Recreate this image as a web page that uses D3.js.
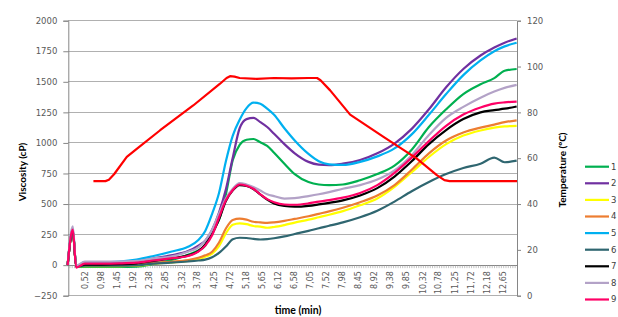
<!DOCTYPE html>
<html>
<head>
<meta charset="utf-8">
<script src="https://cdn.jsdelivr.net/npm/d3@7/dist/d3.min.js"></script>
<style>
  html, body { margin: 0; padding: 0; background: #fff; }
  svg { display: block; }
  text { font-family: "DejaVu Sans", Verdana, sans-serif; }
</style>
</head>
<body>
<svg id="chart" width="618" height="317"></svg>
<script>
// time (min) of every sample, shared by the 9 viscosity series
const times = [0, 0.15, 0.25, 0.5, 1.0, 1.5, 2.0, 2.5, 3.0, 3.5, 3.8, 4.0, 4.2, 4.4, 4.6, 4.8,
  5.0, 5.2, 5.4, 5.6, 5.8, 6.0, 6.3, 6.6, 7.0, 7.3, 7.6, 8.0, 8.5, 9.0, 9.5, 10.0, 10.5,
  11.0, 11.5, 12.0, 12.4, 12.7, 13.05]

// viscosity (cP)
const s1 = [0, 280, -15, -15, -15, -15, -12, 10, 40, 85, 120, 160, 280, 370, 580, 860,
  985, 1026, 1032, 1005, 975, 920, 830, 745, 680, 660, 655, 660, 695, 745, 815, 945, 1130,
  1275, 1400, 1480, 1530, 1590, 1605]
const s2 = [0, 280, -10, 20, 20, 22, 30, 55, 80, 115, 160, 200, 290, 430, 620, 880,
  1120, 1195, 1205, 1170, 1130, 1075, 990, 915, 845, 822, 818, 830, 860, 915, 995, 1115, 1275,
  1455, 1605, 1715, 1780, 1820, 1855]
const s3 = [0, 280, -10, -8, -8, -8, -5, 12, 22, 35, 50, 68, 95, 155, 260, 330,
  342, 335, 320, 315, 306, 312, 328, 348, 372, 392, 412, 442, 490, 545, 640, 760, 885,
  990, 1060, 1102, 1125, 1135, 1140]
const s4 = [0, 280, -10, 0, 0, 0, 5, 18, 28, 42, 60, 80, 110, 185, 300, 370,
  380, 372, 355, 350, 346, 350, 362, 378, 400, 420, 440, 470, 515, 570, 655, 780, 915,
  1020, 1085, 1125, 1150, 1170, 1185]
const s5 = [0, 300, -10, 25, 25, 30, 45, 75, 110, 150, 205, 280, 420, 590, 850, 1060,
  1190, 1285, 1330, 1320, 1280, 1230, 1120, 1020, 910, 850, 825, 820, 845, 890, 955, 1070, 1230,
  1400, 1555, 1675, 1750, 1790, 1820]
const s6 = [0, 280, -10, -5, -5, -5, -2, 12, 20, 30, 38, 45, 65, 100, 152, 212,
  224, 222, 215, 210, 213, 220, 235, 255, 280, 302, 322, 350, 392, 445, 520, 605, 680,
  745, 795, 830, 880, 842, 855]
const s7 = [0, 280, -10, 5, 5, 8, 15, 35, 55, 80, 115, 170, 255, 375, 525, 612,
  655, 648, 622, 578, 536, 505, 484, 478, 485, 497, 510, 530, 570, 630, 725, 850, 990,
  1105, 1195, 1250, 1268, 1280, 1298]
const s8 = [0, 318, -5, 28, 28, 30, 35, 55, 70, 110, 145, 200, 290, 420, 545, 625,
  672, 660, 640, 610, 580, 565, 545, 548, 565, 580, 598, 625, 655, 700, 775, 900, 1065,
  1205, 1295, 1370, 1420, 1450, 1475]
const s9 = [0, 290, -20, 12, 12, 14, 20, 38, 55, 75, 110, 160, 245, 390, 530, 615,
  660, 650, 625, 580, 540, 515, 496, 494, 505, 520, 532, 552, 590, 655, 755, 880, 1015,
  1140, 1232, 1290, 1322, 1332, 1338]

// temperature (ºC), secondary axis
const tempTimes = [0.75, 1.1, 1.2, 1.35, 1.72, 2.0, 2.69, 3.65, 4.43, 4.62, 4.72, 4.85, 5.0,
  5.5, 6.0, 6.5, 7.0, 7.25, 7.35, 7.63, 8.21, 9.18, 10.14, 10.73, 10.95, 11.1, 13.06]
const tempVals = [50, 50, 50.6, 53, 60.6, 64, 72.2, 83, 92.5, 95, 95.8, 95.6, 95,
  94.6, 95, 94.8, 95, 95, 94, 89.6, 79, 69.3, 59.9, 52.6, 50.4, 50, 50]

const seriesNames = ['1', '2', '3', '4', '5', '6', '7', '8', '9']
const seriesColors = ['#00b050', '#7030a0', '#ffff00', '#ed7d31', '#00b0f0', '#2f6670', '#000000', '#b3a2c7', '#ff0066']
const seriesVals = [s1, s2, s3, s4, s5, s6, s7, s8, s9]

const timeLabels = ['0,52', '0,98', '1,45', '1,92', '2,38', '2,85', '3,32', '3,78', '4,25', '4,72',
  '5,18', '5,65', '6,12', '6,58', '7,05', '7,52', '7,98', '8,45', '8,92', '9,38', '9,85',
  '10,32', '10,78', '11,25', '11,72', '12,18', '12,65']
const viscTicks = [-250, 0, 250, 500, 750, 1000, 1250, 1500, 1750, 2000]
const tempTicks = [0, 20, 40, 60, 80, 100, 120]

const plotLeft = 68.3
const plotRight = 517
const plotTop = 20.7
const plotBottom = 295.7

const svg = d3.select('#chart')

const x = d3.scaleLinear().domain([0.02, 13.06]).range([plotLeft, plotRight])
const y = d3.scaleLinear().domain([-250, 2000]).range([plotBottom, plotTop])
const yT = d3.scaleLinear().domain([0, 120]).range([plotBottom, plotTop])

// gridlines
svg.append('g')
  .selectAll('line')
  .data(viscTicks)
  .join('line')
  .attr('x1', plotLeft).attr('x2', plotRight)
  .attr('y1', d => y(d)).attr('y2', d => y(d))
  .attr('stroke', '#b0b0b0').attr('stroke-width', 1)
  .attr('shape-rendering', 'crispEdges')

// left axis
const yAxis = d3.axisLeft(y).tickValues(viscTicks).tickSize(5).tickPadding(6).tickFormat(d3.format('d'))
const gy = svg.append('g').attr('transform', `translate(${plotLeft},0)`).call(yAxis)
gy.select('.domain').attr('stroke', '#868686')
gy.selectAll('.tick line').attr('stroke', '#868686')
gy.selectAll('text').attr('fill', '#595959').style('font-size', '8.5px')

// right axis
const yAxisR = d3.axisRight(yT).tickValues(tempTicks).tickSize(4).tickPadding(6).tickFormat(d3.format('d'))
const gr = svg.append('g').attr('transform', `translate(${plotRight},0)`).call(yAxisR)
gr.select('.domain').attr('stroke', '#868686')
gr.selectAll('.tick line').attr('stroke', '#868686')
gr.selectAll('text').attr('fill', '#595959').style('font-size', '8.5px')

// category axis at 0
const y0 = y(0)
const gx = svg.append('g')
gx.append('line')
  .attr('x1', plotLeft).attr('x2', plotRight)
  .attr('y1', y0).attr('y2', y0)
  .attr('stroke', '#868686').attr('shape-rendering', 'crispEdges')
const minor = d3.range(0.0667, 13.06, 0.0667)
gx.selectAll('line.minor')
  .data(minor)
  .join('line')
  .attr('class', 'minor')
  .attr('x1', d => x(d)).attr('x2', d => x(d))
  .attr('y1', y0).attr('y2', y0 + 3)
  .attr('stroke', '#9a9a9a').attr('stroke-width', 0.6)
gx.selectAll('text')
  .data(timeLabels)
  .join('text')
  .attr('transform', d => `translate(${x(parseFloat(d.replace(',', '.')))},${y0 + 6}) rotate(-90)`)
  .attr('text-anchor', 'end')
  .attr('dy', '0.35em')
  .attr('fill', '#595959')
  .style('font-size', '8px')
  .text(d => d)

// series
const line = d3.line()
  .x((d, i) => x(times[i]))
  .y(d => y(d))
  .curve(d3.curveMonotoneX)

svg.append('g')
  .selectAll('path')
  .data(seriesVals)
  .join('path')
  .attr('d', d => line(d))
  .attr('fill', 'none')
  .attr('stroke', (d, i) => seriesColors[i])
  .attr('stroke-width', 2.2)
  .attr('stroke-linejoin', 'round')

const tempLine = d3.line()
  .x((d, i) => x(tempTimes[i]))
  .y(d => yT(d))

svg.append('path')
  .attr('d', tempLine(tempVals))
  .attr('fill', 'none')
  .attr('stroke', '#ff0000')
  .attr('stroke-width', 2.2)
  .attr('stroke-linejoin', 'round')

// axis titles
svg.append('text')
  .attr('transform', 'translate(22,172) rotate(-90)')
  .attr('text-anchor', 'middle')
  .attr('dy', '0.35em')
  .style('font-size', '10px').style('font-weight', 'bold')
  .style('font-family', 'Lato, "Liberation Sans", sans-serif')
  .attr('fill', '#000')
  .text('Viscosity (cP)')

svg.append('text')
  .attr('transform', 'translate(562,170) rotate(-90)')
  .attr('text-anchor', 'middle')
  .attr('dy', '0.35em')
  .style('font-size', '10px').style('font-weight', 'bold')
  .style('font-family', 'Lato, "Liberation Sans", sans-serif')
  .attr('fill', '#000')
  .text('Temperature (ºC)')

svg.append('text')
  .attr('x', 298).attr('y', 314)
  .attr('text-anchor', 'middle')
  .style('font-size', '10.5px').style('font-weight', 'bold')
  .style('font-family', 'Lato, "Liberation Sans", sans-serif')
  .attr('fill', '#000')
  .text('time (min)')

// legend
const legend = svg.append('g')
  .selectAll('g')
  .data(seriesNames)
  .join('g')
  .attr('transform', (d, i) => `translate(585,${166.7 + i * 16.6})`)
legend.append('line')
  .attr('x1', 0).attr('x2', 24)
  .attr('stroke', (d, i) => seriesColors[i])
  .attr('stroke-width', 2.2)
legend.append('text')
  .attr('x', 26).attr('dy', '0.35em')
  .attr('fill', '#404040')
  .style('font-size', '8.5px')
  .text(d => d)
</script>
</body>
</html>
